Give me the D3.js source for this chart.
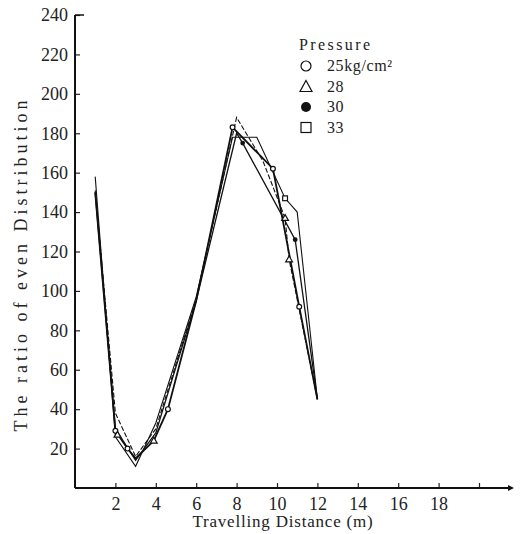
<!DOCTYPE html>
<html>
<head>
<meta charset="utf-8">
<script src="https://cdn.jsdelivr.net/npm/d3@7"></script>
<style>
  body { margin: 0; background: #fff; }
  svg text { font-family: "Liberation Serif", "DejaVu Serif", serif !important; fill: #222; }
</style>
</head>
<body>
<div id="chart-area"></div>
<script>
// values
let xTicks = [2, 4, 6, 8, 10, 12, 14, 16, 18, 20];
let yTicks = [20, 40, 60, 80, 100, 120, 140, 160, 180, 200, 220, 240];

let pressures = ["25kg/cm²", "28", "30", "33"];

let s25 = [[1, 150], [2, 29], [2.6, 20], [3, 15], [3.9, 24], [4.6, 40], [6, 95], [7.8, 183], [9.8, 162], [11.1, 92], [12, 45]];
let s28 = [[1, 151], [2, 38], [3, 16], [4, 30], [6, 96], [8, 188], [9.3, 166], [10.4, 137], [10.6, 116], [12, 45]];
let s30 = [[1, 150], [2, 30], [3, 14], [4, 28], [6, 95], [8, 180], [8.3, 175], [10.9, 126], [12, 45]];
let s33 = [[1, 158], [2, 26], [3, 11], [4, 33], [6, 97], [7.8, 178], [9, 178], [10.4, 147], [11, 140], [12, 45]];

// the measured points that carry a marker
let m25 = [[2, 29], [2.6, 20], [4.6, 40], [7.8, 183], [9.8, 162], [11.1, 92]];
let m28 = [[2.1, 27], [3.9, 24], [10.4, 137], [10.6, 116]];
let m30 = [[8.3, 175], [10.9, 126]];
let m33 = [[10.4, 147]];

let width = 520, height = 534;

let svg = d3.select("#chart-area")
    .append("svg")
    .attr("width", width)
    .attr("height", height);

let x = d3.scaleLinear().domain([0, 20]).range([75, 479]);
let y = d3.scaleLinear().domain([0, 240]).range([488, 15]);

// X Axis
let xAxisGroup = svg.append("g")
    .attr("transform", `translate(0,${y(0)})`)
    .call(d3.axisBottom(x).tickValues(xTicks).tickSizeInner(-5).tickSizeOuter(0).tickPadding(9)
        .tickFormat(d => d === 20 ? "" : d));
xAxisGroup.select(".domain").remove();
xAxisGroup.attr("font-size", 18);

// Y Axis
let yAxisGroup = svg.append("g")
    .attr("transform", `translate(${x(0)},0)`)
    .call(d3.axisLeft(y).tickValues(yTicks).tickSizeInner(-5).tickSizeOuter(0).tickPadding(7));
yAxisGroup.select(".domain").remove();
yAxisGroup.attr("font-size", 18);
svg.selectAll(".tick line").attr("stroke", "#222").attr("stroke-width", 1.2);

// axis lines
svg.append("line")
    .attr("x1", x(0)).attr("y1", y(0)).attr("x2", 508).attr("y2", y(0))
    .attr("stroke", "#111").attr("stroke-width", 2);
svg.append("path")
    .attr("d", `M508,${y(0) - 3}L514,${y(0)}L508,${y(0) + 3}Z`)
    .attr("fill", "#111");
svg.append("line")
    .attr("x1", x(0)).attr("y1", y(0)).attr("x2", x(0)).attr("y2", y(240))
    .attr("stroke", "#111").attr("stroke-width", 2);
svg.append("line")
    .attr("x1", x(0)).attr("y1", y(240)).attr("x2", x(0) + 9).attr("y2", y(240))
    .attr("stroke", "#111").attr("stroke-width", 1.5);

// titles
svg.append("text")
    .attr("x", 283).attr("y", 527)
    .attr("text-anchor", "middle")
    .attr("font-size", 17)
    .attr("letter-spacing", 0.8)
    .text("Travelling Distance (m)");

svg.append("text")
    .attr("transform", "translate(27,264) rotate(-90)")
    .attr("text-anchor", "middle")
    .attr("font-size", 18)
    .attr("letter-spacing", 4)
    .text("The ratio of  even Distribution");

// lines
let line = d3.line().x(d => x(d[0])).y(d => y(d[1]));

let series = [
    {data: s25, marks: m25, w: 1.8, dash: null},
    {data: s28, marks: m28, w: 1.1, dash: "5,2"},
    {data: s30, marks: m30, w: 1.3, dash: null},
    {data: s33, marks: m33, w: 1.1, dash: null}
];

series.forEach(s => {
    svg.append("path")
        .datum(s.data)
        .attr("d", line)
        .attr("fill", "none")
        .attr("stroke", "#111")
        .attr("stroke-width", s.w)
        .attr("stroke-dasharray", s.dash);
});

// markers
function drawMarker(g, kind, cx, cy, r) {
    if (kind === 0) {
        g.append("circle").attr("cx", cx).attr("cy", cy).attr("r", r)
            .attr("fill", "#fff").attr("stroke", "#111").attr("stroke-width", 1.2);
    } else if (kind === 1) {
        g.append("path")
            .attr("d", `M${cx},${cy - r - 1}L${cx + r + 1},${cy + r}L${cx - r - 1},${cy + r}Z`)
            .attr("fill", "#fff").attr("stroke", "#111").attr("stroke-width", 1.2);
    } else if (kind === 2) {
        g.append("circle").attr("cx", cx).attr("cy", cy).attr("r", r)
            .attr("fill", "#111");
    } else {
        g.append("rect").attr("x", cx - r).attr("y", cy - r).attr("width", 2 * r).attr("height", 2 * r)
            .attr("fill", "#fff").attr("stroke", "#111").attr("stroke-width", 1.2);
    }
}

let markGroup = svg.append("g");
series.forEach((s, i) => {
    s.marks.forEach(p => drawMarker(markGroup, i, x(p[0]), y(p[1]), 2.4));
});

// legend
let legend = svg.append("g");
legend.append("text")
    .attr("x", 299).attr("y", 50)
    .attr("font-size", 16)
    .attr("letter-spacing", 2.4)
    .text("Pressure");

pressures.forEach((p, i) => {
    let ly = 71 + i * 20.5;
    drawMarker(legend, i, 306, ly - 5, 5);
    legend.append("text")
        .attr("x", 327).attr("y", ly)
        .attr("font-size", 16)
        .attr("letter-spacing", 0.6)
        .text(p);
});
</script>
</body>
</html>
